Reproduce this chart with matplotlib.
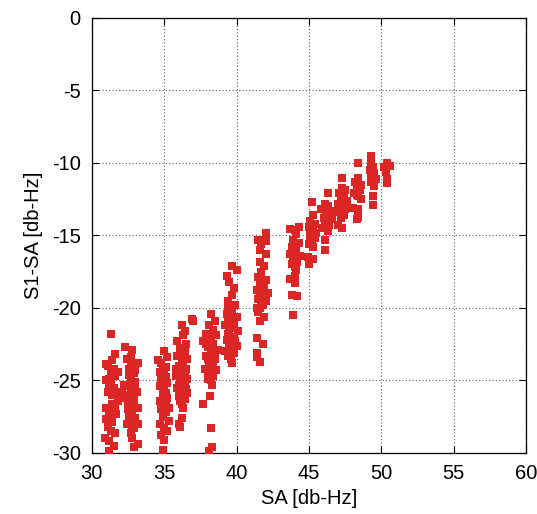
import numpy as np
import matplotlib
matplotlib.use("Agg")
import matplotlib.pyplot as plt

plt.rcParams['font.family'] = ['Liberation Sans', 'DejaVu Sans']
plt.rcParams['axes.unicode_minus'] = False

# punti letti a mano dal grafico, gruppo per gruppo (SA, S1-SA)
g1 = [(31.3, -21.8), (31.6, -23.2), (31.4, -23.6), (31.1, -24.0), (31.5, -24.2), (31.3, -24.5),
      (31.6, -24.7), (31.0, -25.0), (31.3, -25.2), (31.5, -25.5), (31.1, -25.8), (31.4, -26.0),
      (31.7, -25.9), (31.0, -26.9), (31.3, -27.0), (31.6, -26.8), (31.2, -27.4), (31.0, -27.7),
      (31.4, -27.9), (31.3, -28.5), (31.6, -28.6), (30.9, -29.0), (31.2, -29.2), (31.5, -29.5),
      (31.2, -29.9), (31.8, -24.4), (31.9, -25.8), (31.8, -26.4), (31.2, -24.9), (31.4, -26.6),
      (31.1, -28.2), (31.7, -27.3), (31.0, -23.9), (31.2, -25.5)]
g2 = [(32.3, -22.7), (32.8, -22.9), (32.4, -23.5), (32.7, -23.4), (33.0, -23.8), (33.2, -23.8),
      (32.6, -24.2), (32.9, -24.5), (32.7, -24.9), (33.0, -25.1), (32.5, -25.4), (32.8, -25.6),
      (33.1, -25.8), (32.6, -26.0), (32.9, -26.3), (32.7, -26.6), (33.2, -26.9), (32.5, -27.0),
      (32.8, -27.3), (33.0, -27.6), (32.6, -27.9), (33.2, -28.0), (32.4, -28.0), (32.9, -28.3),
      (32.7, -28.6), (32.8, -29.0), (33.2, -29.4), (32.9, -29.6), (32.5, -26.4), (33.0, -24.3),
      (32.8, -24.0), (32.6, -24.6), (33.0, -25.4), (32.7, -25.9), (32.9, -26.8), (32.6, -27.5),
      (32.9, -27.9), (32.7, -23.7), (32.1, -25.9), (32.0, -26.2), (32.2, -25.3), (32.8, -28.2)]
g3 = [(35.0, -23.0), (35.2, -23.4), (34.8, -23.8), (35.1, -24.1), (34.7, -24.4), (35.0, -24.6),
      (34.8, -25.0), (35.2, -25.2), (34.7, -25.4), (35.0, -25.7), (34.9, -26.0), (35.2, -26.2),
      (34.7, -26.4), (35.0, -26.7), (34.8, -27.0), (35.1, -27.2), (34.9, -27.5), (35.3, -27.8),
      (34.7, -28.0), (35.0, -28.3), (35.2, -28.5), (34.8, -28.8), (35.0, -29.1), (34.9, -29.8),
      (34.9, -24.2), (35.1, -24.8), (34.9, -25.5), (35.1, -26.5), (34.9, -27.2), (35.1, -25.9),
      (34.6, -23.6), (35.3, -26.9)]
g4 = [(36.9, -20.8), (36.2, -21.2), (36.4, -21.6), (36.3, -21.9), (35.9, -22.3), (36.5, -22.5),
      (36.1, -22.8), (36.4, -23.1), (35.9, -23.3), (36.6, -23.5), (36.2, -23.7), (36.0, -24.0),
      (36.5, -24.2), (36.3, -24.5), (35.8, -24.7), (36.6, -24.9), (36.1, -25.1), (36.4, -25.3),
      (35.9, -25.5), (36.2, -25.7), (36.6, -25.9), (36.0, -26.1), (36.4, -26.3), (36.2, -26.6),
      (36.3, -26.9), (36.2, -27.6), (36.0, -28.0), (36.1, -28.2), (36.3, -23.9), (36.1, -24.4),
      (36.4, -24.7), (36.0, -25.3), (36.3, -25.0), (36.5, -25.6), (36.1, -26.4), (36.4, -22.9),
      (36.2, -23.3), (35.8, -24.2)]
g5 = [(38.2, -20.4), (38.5, -20.9), (38.1, -21.2), (38.4, -21.5), (37.9, -21.8), (38.6, -21.9),
      (38.2, -22.1), (37.7, -22.3), (38.4, -22.5), (38.0, -22.7), (38.7, -22.9), (38.2, -23.1),
      (37.9, -23.3), (38.5, -23.5), (38.1, -23.7), (38.3, -24.0), (37.8, -24.2), (38.6, -24.3),
      (38.0, -24.5), (38.4, -24.7), (38.2, -25.0), (38.3, -25.3), (38.15, -26.1), (37.7, -26.6),
      (38.2, -28.3), (38.3, -29.6), (38.1, -29.9), (37.0, -20.9), (38.0, -22.0), (38.3, -22.8),
      (38.0, -23.5), (38.4, -23.8), (38.1, -24.1), (38.2, -24.8), (37.9, -22.5), (38.5, -23.1),
      (38.1, -22.4), (38.0, -24.9)]
g6 = [(39.65, -17.1), (40.0, -17.4), (39.3, -17.8), (39.5, -18.2), (39.8, -18.6), (39.7, -19.1),
      (39.4, -19.5), (39.9, -19.8), (39.6, -20.1), (39.3, -20.4), (40.0, -20.6), (39.5, -20.8),
      (39.8, -21.0), (39.2, -21.2), (39.6, -21.4), (40.1, -21.6), (39.4, -21.8), (39.8, -22.0),
      (39.3, -22.2), (39.7, -22.4), (40.0, -22.6), (39.5, -22.8), (39.2, -23.0), (39.8, -23.1),
      (39.4, -23.3), (39.6, -23.5), (39.7, -23.8), (39.6, -20.6), (39.4, -21.0), (39.8, -21.4),
      (39.5, -22.0), (39.9, -22.3), (39.6, -22.6), (39.4, -20.0), (39.7, -20.3), (39.5, -21.6)]
g7 = [(42.0, -14.85), (41.5, -15.3), (42.0, -15.4), (41.7, -15.6), (41.6, -16.0), (42.0, -16.3),
      (41.6, -16.8), (41.9, -17.1), (41.7, -17.5), (41.5, -17.9), (42.0, -18.1), (41.6, -18.4),
      (41.9, -18.6), (41.4, -18.8), (42.2, -19.0), (41.7, -19.2), (41.5, -19.4), (42.0, -19.5),
      (41.8, -19.8), (41.4, -20.0), (41.5, -20.25), (41.9, -20.6), (41.6, -20.9), (41.4, -22.1),
      (41.8, -22.5), (41.4, -23.1), (41.4, -23.4), (41.6, -23.75), (41.7, -18.0), (41.8, -18.9),
      (41.6, -19.0), (41.7, -19.6), (41.6, -20.0), (41.9, -19.3)]
g8 = [(44.3, -14.4), (43.7, -14.55), (44.1, -14.9), (43.9, -15.3), (44.3, -15.5), (43.8, -15.8),
      (44.1, -16.0), (43.7, -16.3), (44.4, -16.4), (43.9, -16.6), (44.2, -16.8), (43.8, -17.0),
      (44.0, -17.2), (44.1, -17.4), (44.0, -17.8), (43.7, -18.0), (44.0, -18.3), (43.8, -19.1),
      (44.2, -19.2), (43.9, -20.5), (44.0, -15.6), (44.1, -16.3), (43.9, -16.9), (44.0, -14.6)]
g9 = [(45.2, -12.7), (45.3, -13.6), (45.1, -14.0), (45.4, -14.2), (45.0, -14.4), (45.3, -14.6),
      (45.5, -14.8), (45.1, -15.0), (45.4, -15.2), (45.2, -15.4), (45.0, -15.6), (45.3, -15.8),
      (44.95, -16.5), (45.3, -16.6), (45.0, -17.0), (45.2, -14.3), (45.3, -15.0), (45.1, -15.5)]
g10 = [(46.3, -12.05), (46.1, -12.8), (45.8, -13.2), (46.3, -13.0), (46.5, -13.3), (46.3, -13.6),
       (46.0, -13.8), (46.6, -13.9), (46.2, -14.1), (46.4, -14.3), (45.9, -14.5), (46.3, -14.7),
       (46.1, -15.3), (46.1, -16.0), (46.2, -13.4), (46.4, -13.8), (46.1, -14.3)]
g11 = [(47.25, -11.06), (47.3, -11.7), (47.5, -11.9), (47.1, -12.1), (47.4, -12.3), (47.2, -12.5),
       (47.6, -12.6), (47.0, -12.8), (47.3, -13.0), (47.5, -13.2), (47.1, -13.4), (47.4, -13.6),
       (47.2, -13.8), (47.0, -14.3), (47.3, -14.5), (47.3, -12.2), (47.2, -13.1), (47.3, -13.5)]
g12 = [(48.4, -9.98), (48.4, -11.06), (48.2, -11.3), (48.6, -11.5), (48.3, -11.7), (48.5, -11.9),
       (48.1, -12.1), (48.4, -12.3), (48.6, -12.5), (48.06, -13.1), (48.4, -13.2), (48.4, -13.7),
       (48.3, -13.85), (48.4, -11.8), (48.3, -12.2)]
g13 = [(49.26, -9.5), (49.26, -9.98), (49.4, -10.3), (49.2, -10.5), (49.5, -10.7), (49.3, -10.9),
       (49.6, -11.1), (49.3, -11.3), (49.5, -11.6), (49.4, -12.25), (49.4, -12.9), (49.4, -10.8)]
g14 = [(50.37, -10.0), (50.6, -10.2), (50.3, -10.6), (50.4, -11.1), (50.4, -11.4), (50.2, -10.3)]

gruppi = [g1, g2, g3, g4, g5, g6, g7, g8, g9, g10, g11, g12, g13, g14]
punti = np.array([p for g in gruppi for p in g])

fig = plt.figure(figsize=(5.37, 5.14), dpi=100)
ax = fig.add_axes([0.171, 0.119, 0.809, 0.846])
ax.scatter(punti[:, 0], punti[:, 1], marker='s', s=30, color='#dc2626', linewidths=0, zorder=3)

ax.set_xlim(30, 60)
ax.set_ylim(-30, 0)
ax.set_xticks(np.arange(30, 61, 5))
ax.set_yticks(np.arange(-30, 1, 5))
ax.grid(True, linestyle=(0, (1, 2)), color='#666666', linewidth=0.8)
ax.tick_params(direction='in', top=True, right=True, length=5, labelsize=14.5, pad=8)
for s in ax.spines.values():
    s.set_linewidth(0.9)
ax.set_xlabel("SA [db-Hz]", fontsize=14.5, labelpad=4)
ax.set_ylabel("S1-SA [db-Hz]", fontsize=14.5, labelpad=6)

fig.savefig("out.png", dpi=100)
